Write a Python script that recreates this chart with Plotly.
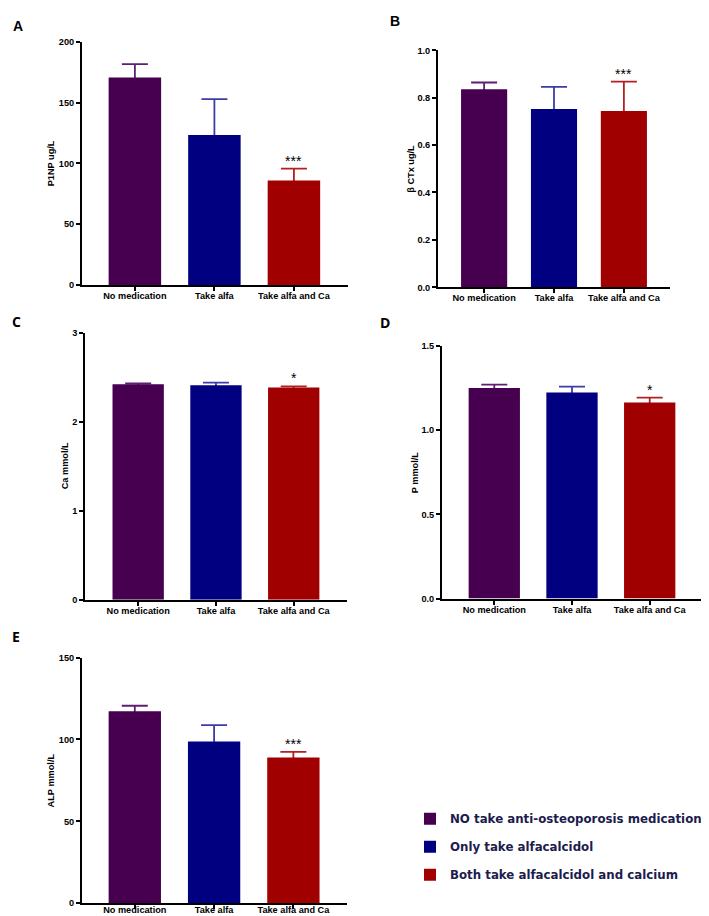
import plotly.graph_objects as go

categories = ["No medication", "Take alfa", "Take alfa and Ca"]
group_names = ["NO take anti-osteoporosis medication",
               "Only take alfacalcidol",
               "Both take alfacalcidol and calcium"]

p1np_mean = [170.5, 123.3, 85.9]
p1np_err = [11.0, 29.5, 9.8]
ctx_mean = [0.836, 0.752, 0.744]
ctx_err = [0.028, 0.094, 0.124]
ca_mean = [2.422, 2.411, 2.384]
ca_err = [0.008, 0.029, 0.014]
p_mean = [1.250, 1.224, 1.165]
p_err = [0.021, 0.035, 0.028]
alp_mean = [117.2, 98.8, 89.0]
alp_err = [3.4, 10.0, 3.4]

titles = ["P1NP ug/L", "β CTx ug/L", "Ca mmol/L", "P mmol/L", "ALP mmol/L"]
panel_letters = ["A", "B", "C", "D", "E"]
signif = ["***", "***", "*", "*", "***"]
y_max = [200, 1.0, 3, 1.5, 150]
y_dtick = [50, 0.2, 1, 0.5, 50]
y_fmt = ["d", ".1f", "d", ".1f", "d"]

means = [p1np_mean, ctx_mean, ca_mean, p_mean, alp_mean]
errs = [p1np_err, ctx_err, ca_err, p_err, alp_err]

W, H = 709, 916
bar_colors = ["#46004f", "#000080", "#a00000"]
err_colors = ["#5e1e72", "#3c3ca6", "#b42020"]


def px_x(x):
    return x / W


def px_y(y):
    return 1 - y / H


# panel geometry in pixels: (x_left, x_right, y_top, y_bottom)
geom = [(74, 340, 29, 275),
        (430, 662, 37.7, 277.3),
        (77.3, 339, 323.3, 593.3),
        (434, 694.3, 336.7, 592),
        (74, 339.3, 651.7, 900)]
xranges = [(-0.665, 2.68), (-0.66, 2.66), (-0.68, 2.685), (-0.673, 2.677), (-0.666, 2.68)]
letter_pos = [(10, 13), (387, 8), (8, 312), (377, 313), (8, 630)]
ytitle_x = [43, 403, 57, 407, 43]
label_standoff = [-3, -3, -3, -3, -7]

tick_font = dict(family="Liberation Sans, Arial", size=9.2, color="black", weight="bold")

fig = go.Figure()
layout = dict(width=W, height=H, margin=dict(l=0, r=0, t=0, b=0),
              paper_bgcolor="white", plot_bgcolor="white",
              barmode="overlay")
annotations = []

for p in range(5):
    xa = "x" if p == 0 else f"x{p+1}"
    ya = "y" if p == 0 else f"y{p+1}"
    xk = "xaxis" if p == 0 else f"xaxis{p+1}"
    yk = "yaxis" if p == 0 else f"yaxis{p+1}"
    xl, xr, yt, yb = geom[p]
    d = 0.02 * y_max[p]
    # hidden carriers of the (upper) error bars, drawn beneath the bars
    for i in range(3):
        fig.add_trace(go.Bar(
            x=[categories[i]], y=[means[p][i] - d], width=0.66,
            marker=dict(color="rgba(0,0,0,0)", line=dict(width=0)),
            error_y=dict(type="data", array=[errs[p][i] + d], arrayminus=[0],
                         symmetric=False, color=err_colors[i],
                         thickness=1.8, width=13),
            showlegend=False, hoverinfo="skip", xaxis=xa, yaxis=ya,
        ))
    for i in range(3):
        fig.add_trace(go.Bar(
            x=[categories[i]], y=[means[p][i]], width=0.66,
            marker=dict(color=bar_colors[i], line=dict(width=0)),
            name=group_names[i], legendgroup=f"g{i}",
            showlegend=(p == 0), xaxis=xa, yaxis=ya,
        ))
    layout[xk] = dict(domain=[px_x(xl), px_x(xr)], anchor=ya, type="category",
                      categoryorder="array", categoryarray=categories,
                      range=list(xranges[p]), showline=True, linecolor="black",
                      linewidth=2, ticks="outside", tickwidth=2, ticklen=4,
                      ticklabelstandoff=label_standoff[p],
                      tickcolor="black", showgrid=False, zeroline=False,
                      tickfont=tick_font, fixedrange=True)
    layout[yk] = dict(domain=[px_y(yb), px_y(yt)], anchor=xa,
                      range=[0, y_max[p]], dtick=y_dtick[p], tick0=0,
                      tickformat=y_fmt[p], showline=True, linecolor="black",
                      linewidth=2, ticks="outside", tickwidth=2, ticklen=4,
                      tickcolor="black", showgrid=False, zeroline=False,
                      tickfont=tick_font, fixedrange=True)
    annotations.append(dict(text=titles[p], x=px_x(ytitle_x[p]), y=px_y((yt + yb) / 2),
                            xref="paper", yref="paper", showarrow=False, textangle=-90,
                            font=dict(family="Liberation Sans, Arial", size=9.2,
                                      color="black", weight="bold"),
                            xanchor="center", yanchor="middle"))
    lx, ly = letter_pos[p]
    annotations.append(dict(text=panel_letters[p], x=px_x(lx), y=px_y(ly),
                            xref="paper", yref="paper", showarrow=False,
                            font=dict(family="Liberation Sans, Arial" if p < 2 else "Open Sans",
                                      size=14, color="black", weight="bold"),
                            xanchor="center", yanchor="middle"))
    annotations.append(dict(text=signif[p], x=categories[2],
                            y=means[p][2] + errs[p][2],
                            xref=xa, yref=ya, showarrow=False,
                            font=dict(family="Liberation Sans, Arial", size=14, color="black"),
                            xanchor="center", yanchor="bottom", yshift=-2))

layout["annotations"] = annotations
layout["showlegend"] = True
layout["legend"] = dict(x=px_x(402), y=px_y(800), xanchor="left", yanchor="top",
                        traceorder="grouped", tracegroupgap=9,
                        font=dict(family="DejaVu Sans", size=11.8, color="#1c1c4e",
                                  weight="bold"),
                        bgcolor="rgba(0,0,0,0)", borderwidth=0)
fig.update_layout(**layout)
fig.write_html("out.html")
